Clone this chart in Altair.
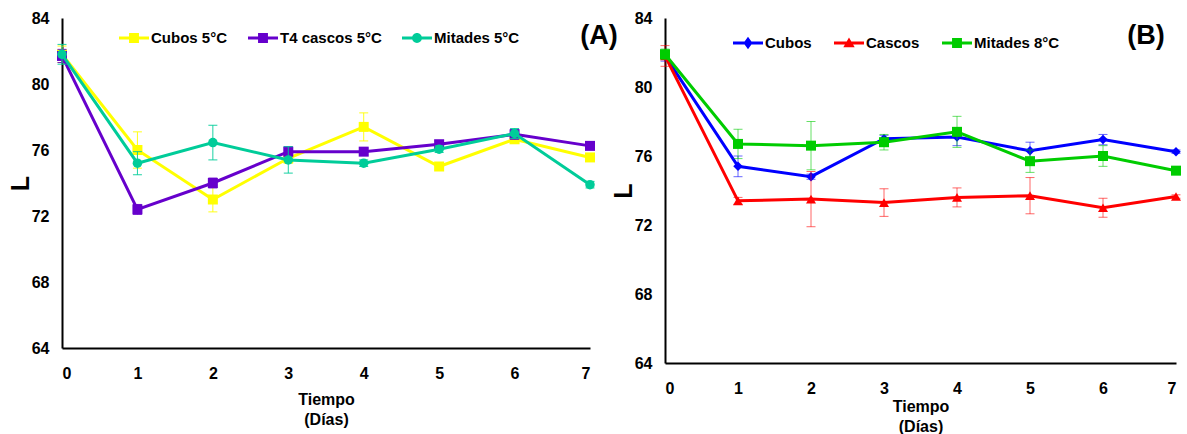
import altair as alt
import pandas as pd

# Días de almacenamiento
dias = [0, 1, 2, 3, 4, 5, 6, 7]
y_ticks = [64, 68, 72, 76, 80, 84]

# (A) Almacenamiento a 5 °C: luminosidad L y desviación estándar
series_a = ["Cubos 5°C", "T4 cascos 5°C", "Mitades 5°C"]
cubos_5 = [81.8, 76.0, 73.0, 75.5, 77.4, 75.0, 76.65, 75.55]
cubos_5_de = [0.5, 1.1, 0.75, 0.3, 0.85, 0.2, 0.2, 0.2]
cascos_5 = [81.7, 72.4, 74.0, 75.9, 75.9, 76.35, 76.95, 76.25]
cascos_5_de = [0.4, 0.3, 0.3, 0.3, 0.2, 0.2, 0.3, 0.2]
mitades_5 = [81.8, 75.2, 76.45, 75.4, 75.2, 76.05, 77.0, 73.9]
mitades_5_de = [0.6, 0.7, 1.05, 0.8, 0.2, 0.2, 0.3, 0.2]

# (B) Cubos, cascos y mitades a 8 °C
series_b = ["Cubos", "Cascos", "Mitades 8°C"]
cubos_8 = [81.8, 75.4, 74.8, 77.0, 77.1, 76.3, 76.95, 76.25]
cubos_8_de = [0.3, 0.6, 0.15, 0.2, 0.5, 0.5, 0.3, 0.1]
cascos_8 = [81.8, 73.4, 73.5, 73.3, 73.6, 73.7, 73.0, 73.65]
cascos_8_de = [0.6, 0.2, 1.6, 0.8, 0.55, 1.05, 0.55, 0.1]
mitades_8 = [81.9, 76.7, 76.6, 76.8, 77.4, 75.7, 76.0, 75.15]
mitades_8_de = [0.3, 0.85, 1.4, 0.45, 0.9, 0.65, 0.6, 0.1]

FONT = "Liberation Sans Narrow, Arial Narrow, Liberation Sans, Arial, sans-serif"
FONT_WIDE = "Liberation Sans, Arial, sans-serif"

# legend glyphs: a short line with the series marker on it (unit box -1..1)
BAR = "M-1,-0.1H1V0.1H-1Z"
LEGEND_GLYPH = {
    "square": BAR + "M-0.33,-0.33H0.33V0.33H-0.33Z",
    "circle": BAR + "M-0.33,0A0.33,0.33 0 1,1 0.33,0A0.33,0.33 0 1,1 -0.33,0Z",
    "diamond": BAR + "M0,-0.42L0.3,0L0,0.42L-0.3,0Z",
    "triangle-up": BAR + "M0,-0.36L0.38,0.28H-0.38Z",
}
MARKER_SIZE = {"square": 100, "circle": 90, "diamond": 90, "triangle-up": 100}


def make_frame(names, values, errors):
    rows = []
    for name, vals, errs in zip(names, values, errors):
        for d, v, e in zip(dias, vals, errs):
            rows.append({"Día": d, "L": v, "lo": v - e, "hi": v + e, "Serie": name})
    return pd.DataFrame(rows)


def panel(names, values, errors, colors, shapes, tag, width, height,
          legend_x, legend_y, col_pad, tag_x, tag_y, xtitle_y, err_opacity):
    df = make_frame(names, values, errors)
    xscale = alt.Scale(domain=[0, 7], nice=False)
    yscale = alt.Scale(domain=[64, 84], nice=False)
    xaxis = alt.Axis(
        values=dias, ticks=False, grid=False, domainColor="black", domainWidth=2,
        labelFont=FONT, labelFontSize=16, labelFontWeight="bold", labelColor="black",
        labelPadding=17, title=["Tiempo", "(Días)"], titleFont=FONT, titleFontSize=16,
        titleFontWeight="bold", titleColor="black", titleLineHeight=20,
        titleBaseline="top", titleY=xtitle_y,
    )
    yaxis = alt.Axis(
        values=y_ticks, ticks=False, grid=False, domainColor="black", domainWidth=2,
        labelFont=FONT, labelFontSize=16, labelFontWeight="bold", labelColor="black",
        labelPadding=13, title="L", titleFont=FONT_WIDE, titleFontSize=25,
        titleFontWeight="bold", titleColor="black", titlePadding=-2,
    )
    x = alt.X("Día:Q", scale=xscale, axis=xaxis)
    y = alt.Y("L:Q", scale=yscale, axis=yaxis)

    layers = []
    for name, color, shape in zip(names, colors, shapes):
        base = alt.Chart(df).transform_filter(alt.datum.Serie == name)
        layers.append(
            base.mark_errorbar(ticks={"size": 9}, thickness=1, color=color,
                               opacity=err_opacity).encode(
                x=x, y=alt.Y("lo:Q", scale=yscale, axis=yaxis), y2="hi:Q")
        )
        layers.append(base.mark_line(color=color, strokeWidth=3).encode(x=x, y=y))
        layers.append(
            base.mark_point(shape=shape, filled=True, size=MARKER_SIZE[shape],
                            color=color, opacity=1).encode(x=x, y=y)
        )

    legend = alt.Legend(
        orient="none", legendX=legend_x, legendY=legend_y, direction="horizontal",
        title=None, symbolSize=900, symbolStrokeWidth=0, symbolOpacity=1,
        labelFont=FONT, labelFontSize=15, labelFontWeight="bold", labelColor="black",
        labelOffset=2, columnPadding=col_pad, labelLimit=300,
    )
    key = alt.Chart(df).mark_point(filled=True, opacity=0, size=1).encode(
        x=x, y=y,
        color=alt.Color("Serie:N", scale=alt.Scale(domain=names, range=colors), legend=legend),
        shape=alt.Shape("Serie:N",
                        scale=alt.Scale(domain=names, range=[LEGEND_GLYPH[s] for s in shapes]),
                        legend=legend),
    )

    label = alt.Chart(pd.DataFrame({"t": [tag]})).mark_text(
        font=FONT_WIDE, fontSize=27, fontWeight="bold", color="black",
        align="center", baseline="middle",
    ).encode(text="t:N", x=alt.value(tag_x), y=alt.value(tag_y))

    return alt.layer(*layers, key, label).properties(width=width, height=height)


chart_a = panel(
    series_a, [cubos_5, cascos_5, mitades_5], [cubos_5_de, cascos_5_de, mitades_5_de],
    ["#FFFF00", "#6600CC", "#00CC99"], ["square", "square", "circle"], "(A)",
    528, 330, 57, 5, 20, 537, 18, 43, 0.9,
)
chart_b = panel(
    series_b, [cubos_8, cascos_8, mitades_8], [cubos_8_de, cascos_8_de, mitades_8_de],
    ["#0000FF", "#FF0000", "#00CC00"], ["diamond", "triangle-up", "square"], "(B)",
    511, 345, 68, 10, 22, 481, 18, 35, 0.6,
)

chart = (
    alt.hconcat(chart_a, chart_b, spacing=75, bounds="flush")
    .resolve_scale(color="independent", shape="independent")
    .resolve_legend(color="independent", shape="independent")
    .properties(padding={"left": 8, "top": 10, "right": 0, "bottom": 0})
    .configure_view(strokeWidth=0)
)

chart.save("out.html", embed_options={"renderer": "svg", "actions": False})
